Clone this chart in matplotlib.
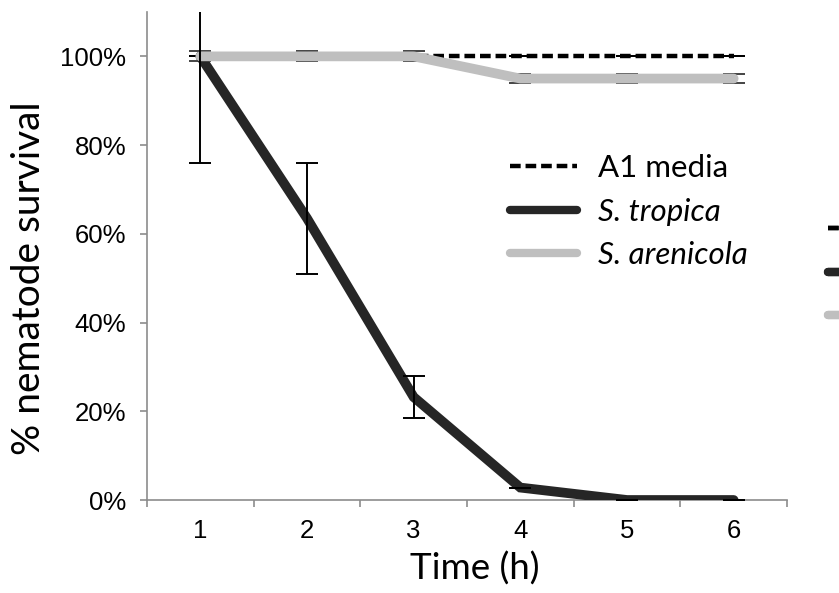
import matplotlib
matplotlib.use("Agg")
import matplotlib.pyplot as plt
from matplotlib.ticker import PercentFormatter, FixedLocator, NullFormatter
from matplotlib.lines import Line2D

time_h = [1, 2, 3, 4, 5, 6]
a1_media = [1.00, 1.00, 1.00, 1.00, 1.00, 1.00]
a1_err = [0.0, 0.0, 0.0, 0.0, 0.0, 0.0]
s_tropica = [1.00, 0.635, 0.232, 0.028, 0.0, 0.0]
s_tropica_err = [0.24, 0.125, 0.047, 0.0, 0.0, 0.0]
s_arenicola = [1.00, 1.00, 1.00, 0.95, 0.95, 0.95]
s_arenicola_err = [0.011, 0.011, 0.011, 0.011, 0.011, 0.011]
labels = ["A1 media", "S. tropica", "S. arenicola"]

plt.rcParams['font.family'] = ['Liberation Sans', 'DejaVu Sans']

fig = plt.figure(figsize=(8.39, 5.93), dpi=100)
ax = fig.add_axes([147/839, 1-500/593, (787-147)/839, (500-12)/593])

dark = "#262626"
gray = "#bfbfbf"
dash = (0, (2.4, 1.1))

ax.plot(time_h, a1_media, color="black", lw=3.2, ls=dash, zorder=2, label=labels[0])
ax.errorbar(time_h, a1_media, yerr=a1_err, fmt="none", ecolor="black", elinewidth=1.4,
            capsize=8, capthick=1.4, zorder=2.5)
ax.errorbar(time_h, s_arenicola, yerr=s_arenicola_err, fmt="none", ecolor="#444444", elinewidth=1.4,
            capsize=8, capthick=1.4, zorder=2.6)
ax.plot(time_h, s_tropica, color=dark, lw=7, solid_capstyle="round", solid_joinstyle="miter", zorder=3, label=labels[1])
ax.plot(time_h, s_arenicola, color=gray, lw=7, solid_capstyle="round", zorder=4, label=labels[2])
ax.errorbar(time_h, s_tropica, yerr=s_tropica_err, fmt="none", ecolor="black", elinewidth=1.4,
            capsize=8, capthick=1.4, zorder=5)

ax.set_xlim(0.5, 6.5)
ax.set_ylim(0, 1.1)
ax.yaxis.set_major_locator(FixedLocator([0, 0.2, 0.4, 0.6, 0.8, 1.0]))
ax.yaxis.set_major_formatter(PercentFormatter(1.0, decimals=0))
ax.xaxis.set_major_locator(FixedLocator([0.5 + i for i in range(7)]))
ax.xaxis.set_major_formatter(NullFormatter())
ax.set_xticks(time_h, [str(t) for t in time_h], minor=True)

for s in ["top", "right"]:
    ax.spines[s].set_visible(False)
for s in ["left", "bottom"]:
    ax.spines[s].set_color("#8c8c8c")
    ax.spines[s].set_linewidth(1.2)
ax.tick_params(axis="both", which="major", direction="out", length=5, width=1.2, color="#8c8c8c", labelsize=18.5)
ax.tick_params(axis="x", which="minor", length=0, labelsize=18.5, pad=14)
ax.tick_params(axis="y", which="major", pad=10)

ax.set_xlabel("Time (h)", fontsize=26.5, family="Lato")
ax.set_ylabel("% nematode survival", fontsize=28, family="Lato")
ax.xaxis.set_label_coords(0.5125, -0.106)
ax.yaxis.set_label_coords(-0.157, 0.455)

def make_handles():
    return [Line2D([], [], color="black", lw=3.2, ls=dash),
            Line2D([], [], color=dark, lw=6, solid_capstyle="round"),
            Line2D([], [], color=gray, lw=6, solid_capstyle="round")]

leg = ax.legend(make_handles(), labels, loc="upper left", bbox_to_anchor=(510/839, 1-154/593),
                bbox_transform=fig.transFigure, frameon=False, handlelength=2.15,
                handletextpad=0.65, labelspacing=0.5, borderpad=0, borderaxespad=0,
                prop={"family": "Lato", "size": 22.5})
for i, t in enumerate(leg.get_texts()):
    if i > 0:
        t.set_fontstyle("italic")
ax.add_artist(leg)

leg2 = ax.legend(make_handles(), [" ", " ", " "], loc="upper left", bbox_to_anchor=(828/839, 1-216/593),
                 bbox_transform=fig.transFigure, frameon=False, handlelength=2.15,
                 labelspacing=0.5, borderpad=0, borderaxespad=0,
                 prop={"family": "Lato", "size": 22.5})
ax.add_artist(leg2)

fig.savefig("out.png", dpi=100)
